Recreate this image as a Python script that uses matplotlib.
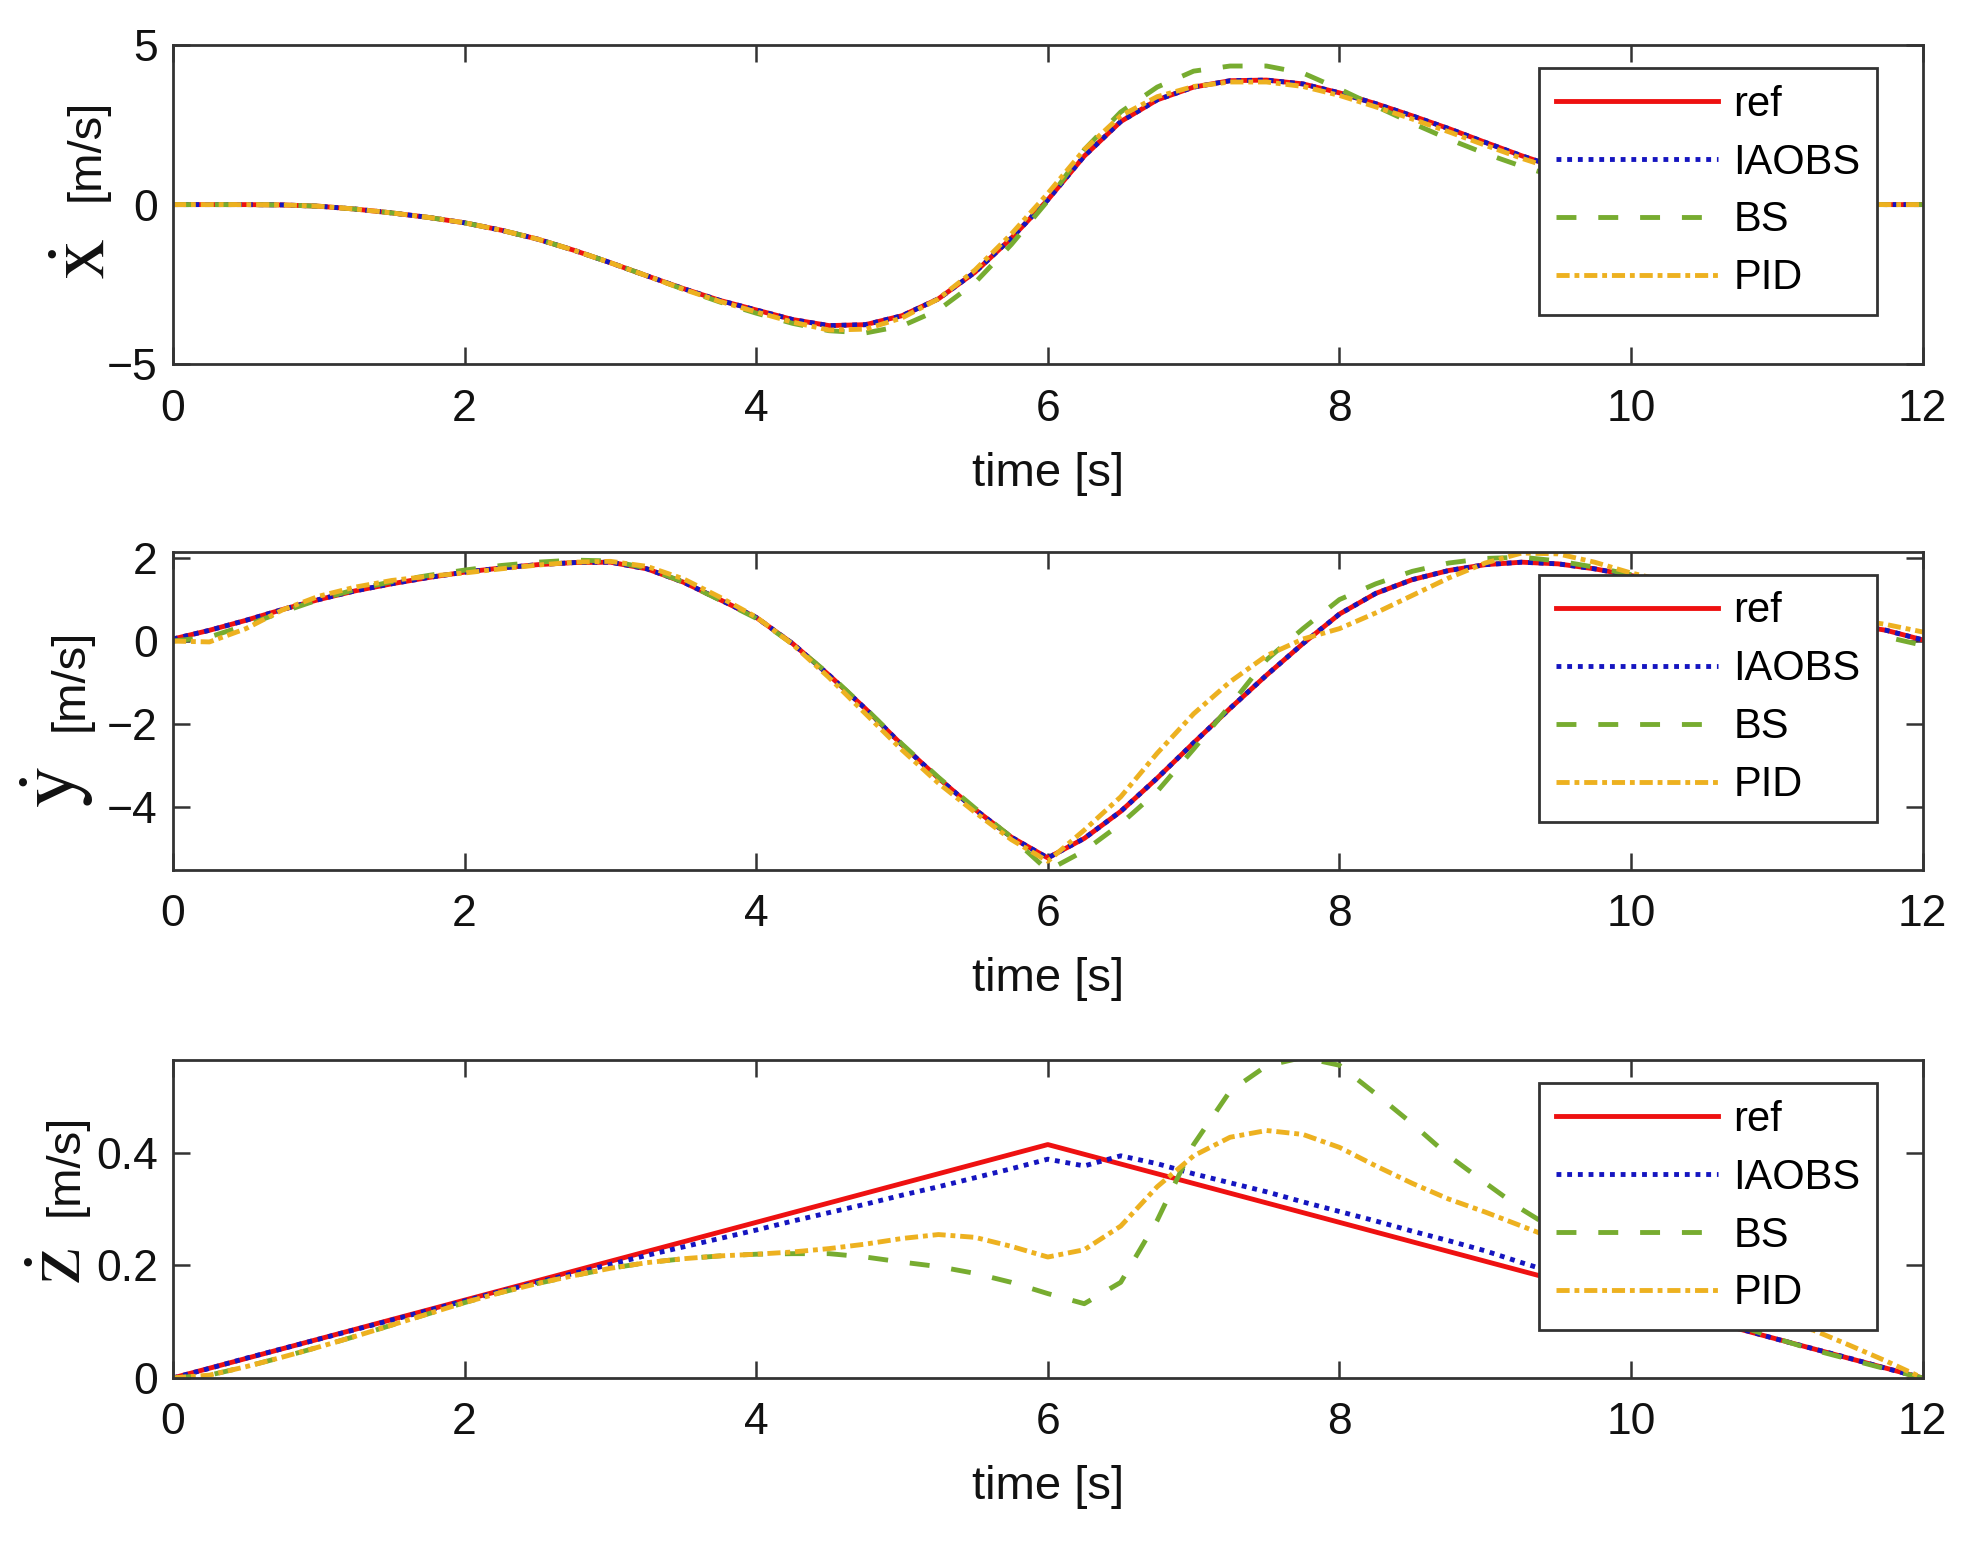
import numpy as np
import matplotlib
matplotlib.use('Agg')
import matplotlib.pyplot as plt

plt.rcParams['font.family'] = ['Liberation Sans', 'DejaVu Sans']
plt.rcParams['mathtext.fontset'] = 'stix'

# time grid [s]
t = np.arange(0, 12.001, 0.25)

# x velocity [m/s]
vx_ref = [0.00, 0.00, 0.00, -0.01, -0.05, -0.14, -0.26, -0.40,
          -0.57, -0.80, -1.08, -1.43, -1.82, -2.23, -2.63, -3.00,
          -3.30, -3.60, -3.79, -3.76, -3.48, -2.95, -2.12, -1.05,
          0.15, 1.52, 2.60, 3.28, 3.68, 3.88, 3.90, 3.78,
          3.50, 3.16, 2.78, 2.38, 1.95, 1.53, 1.15, 0.82,
          0.55, 0.34, 0.19, 0.10, 0.05, 0.02, 0.01, 0.00,
          0.00]
vx_iaobs = list(vx_ref)  # lies on top of ref
vx_bs = [0.00, 0.00, 0.00, -0.01, -0.05, -0.14, -0.26, -0.40,
         -0.57, -0.80, -1.08, -1.43, -1.82, -2.23, -2.65, -3.05,
         -3.40, -3.72, -3.95, -4.02, -3.80, -3.30, -2.45, -1.25,
         0.12, 1.72, 2.90, 3.68, 4.18, 4.34, 4.34, 4.12,
         3.62, 3.08, 2.55, 2.05, 1.60, 1.20, 0.85, 0.55,
         0.32, 0.18, 0.08, 0.03, 0.01, 0.00, 0.00, 0.00,
         0.00]
vx_pid = [0.00, 0.00, 0.00, -0.01, -0.05, -0.14, -0.26, -0.40,
          -0.57, -0.80, -1.08, -1.43, -1.82, -2.23, -2.65, -3.03,
          -3.36, -3.68, -3.93, -3.90, -3.55, -2.95, -2.05, -0.92,
          0.35, 1.72, 2.78, 3.38, 3.70, 3.84, 3.84, 3.70,
          3.42, 3.06, 2.68, 2.28, 1.86, 1.45, 1.08, 0.76,
          0.50, 0.30, 0.16, 0.08, 0.04, 0.02, 0.01, 0.00,
          0.00]

# y velocity [m/s]
vy_ref = [0.05, 0.26, 0.50, 0.76, 1.00, 1.21, 1.38, 1.53,
          1.66, 1.76, 1.84, 1.89, 1.90, 1.74, 1.42, 1.00,
          0.57, -0.06, -0.82, -1.63, -2.50, -3.30, -4.05, -4.72,
          -5.22, -4.75, -4.10, -3.30, -2.45, -1.62, -0.82, -0.06,
          0.65, 1.15, 1.48, 1.70, 1.84, 1.90, 1.86, 1.74,
          1.58, 1.38, 1.16, 0.95, 0.75, 0.56, 0.40, 0.26,
          0.03]
vy_iaobs = list(vy_ref)
vy_bs = [0.00, 0.10, 0.38, 0.70, 1.00, 1.24, 1.43, 1.58,
         1.71, 1.82, 1.90, 1.95, 1.93, 1.76, 1.42, 0.99,
         0.55, -0.07, -0.80, -1.62, -2.48, -3.28, -4.02, -4.72,
         -5.52, -5.05, -4.40, -3.62, -2.60, -1.55, -0.45, 0.30,
         1.00, 1.38, 1.68, 1.88, 1.99, 2.02, 1.93, 1.78,
         1.60, 1.40, 1.18, 0.96, 0.73, 0.52, 0.32, 0.10,
         -0.10]
vy_pid = [0.00, -0.02, 0.30, 0.75, 1.08, 1.30, 1.46, 1.56,
          1.64, 1.74, 1.83, 1.90, 1.92, 1.80, 1.50, 1.06,
          0.58, -0.08, -0.88, -1.75, -2.62, -3.42, -4.12, -4.78,
          -5.30, -4.55, -3.75, -2.70, -1.75, -0.98, -0.35, 0.05,
          0.30, 0.68, 1.10, 1.52, 1.88, 2.12, 2.10, 1.90,
          1.64, 1.44, 1.24, 1.04, 0.86, 0.70, 0.54, 0.40,
          0.22]

# z velocity [m/s]
t_zref = [0, 6, 12]
vz_ref = [0.0, 0.415, 0.0]
vz_iaobs = [0.000, 0.017, 0.035, 0.052, 0.069, 0.086, 0.103, 0.120,
            0.137, 0.154, 0.170, 0.186, 0.202, 0.218, 0.233, 0.248,
            0.263, 0.279, 0.294, 0.309, 0.325, 0.340, 0.356, 0.372,
            0.389, 0.377, 0.395, 0.381, 0.363, 0.347, 0.331, 0.313,
            0.296, 0.279, 0.261, 0.244, 0.226, 0.205, 0.185, 0.166,
            0.146, 0.126, 0.106, 0.087, 0.069, 0.052, 0.035, 0.017,
            0.000]
vz_bs = [0.000, 0.005, 0.020, 0.037, 0.055, 0.074, 0.094, 0.114,
         0.134, 0.152, 0.168, 0.182, 0.195, 0.205, 0.212, 0.217,
         0.220, 0.221, 0.221, 0.215, 0.206, 0.198, 0.186, 0.170,
         0.150, 0.132, 0.170, 0.280, 0.415, 0.510, 0.555, 0.570,
         0.556, 0.505, 0.452, 0.395, 0.347, 0.300, 0.260, 0.215,
         0.178, 0.145, 0.118, 0.092, 0.070, 0.050, 0.033, 0.016,
         0.000]
vz_pid = [0.000, 0.005, 0.020, 0.037, 0.055, 0.074, 0.094, 0.114,
          0.134, 0.152, 0.168, 0.182, 0.195, 0.205, 0.212, 0.217,
          0.220, 0.224, 0.230, 0.238, 0.248, 0.255, 0.250, 0.234,
          0.215, 0.228, 0.270, 0.340, 0.395, 0.428, 0.440, 0.433,
          0.410, 0.377, 0.346, 0.318, 0.295, 0.270, 0.245, 0.215,
          0.190, 0.165, 0.140, 0.120, 0.100, 0.085, 0.058, 0.030,
          0.000]

labels = ['ref', 'IAOBS', 'BS', 'PID']
colors = ['#ee1111', '#1515c0', '#77ac30', '#edb120']
xticks = [0, 2, 4, 6, 8, 10, 12]

panels = [
    # (variable, series, ylim, yticks, axes box, ylabel pos, symbol pos)
    (r'$\dot{\mathrm{x}}$', [(t, vx_ref), (t, vx_iaobs), (t, vx_bs), (t, vx_pid)],
     (-5, 5), [-5, 0, 5], [0.0875, 0.765, 0.885, 0.206], (-0.037, 0.672), (-0.030, 0.33)),
    (r'$\dot{\mathrm{y}}$', [(t, vy_ref), (t, vy_iaobs), (t, vy_bs), (t, vy_pid)],
     (-5.5, 2.15), [-4, -2, 0, 2], [0.0875, 0.439, 0.885, 0.205], (-0.046, 0.596), (-0.044, 0.26)),
    (r'$\dot{\mathrm{z}}$', [(t_zref, vz_ref), (t, vz_iaobs), (t, vz_bs), (t, vz_pid)],
     (0, 0.565), [0, 0.2, 0.4], [0.0875, 0.111, 0.885, 0.205], (-0.049, 0.67), (-0.043, 0.35)),
]

fig = plt.figure(figsize=(19.77, 15.5), dpi=100)
fig.patch.set_facecolor('white')

for sym, series, ylim, yticks, box, lab_pos, sym_pos in panels:
    ax = fig.add_axes(box)
    lw = 3.5
    (t0, y0), (t1, y1), (t2, y2), (t3, y3) = series
    ax.plot(t0, y0, color=colors[0], lw=lw, label=labels[0])
    ax.plot(t1, y1, color=colors[1], lw=lw, dashes=(1.0, 1.2), label=labels[1])
    ax.plot(t2, y2, color=colors[2], lw=lw, dashes=(4.1, 4.5), label=labels[2])
    ax.plot(t3, y3, color=colors[3], lw=lw, dashes=(2.7, 1.0, 1.0, 1.0), label=labels[3])

    ax.set_xlim(0, 12)
    ax.set_ylim(*ylim)
    ax.set_xticks(xticks)
    ax.set_yticks(yticks)
    ax.set_yticklabels([('%g' % v).replace('-', '\u2212') for v in yticks])
    ax.tick_params(direction='in', length=12.5, width=1.8, color='#333333',
                   labelsize=32, top=True, right=True, labelcolor='#111111')
    ax.tick_params(axis='x', pad=17.5)
    ax.tick_params(axis='y', pad=11)
    for s in ax.spines.values():
        s.set_linewidth(2.0)
        s.set_color('#333333')
    ax.set_xlabel('time [s]', fontsize=34, labelpad=16, color='#111111')
    ax.set_ylabel('[m/s]', fontsize=34, color='#111111')
    ax.yaxis.set_label_coords(*lab_pos)
    ax.text(sym_pos[0], sym_pos[1], sym, transform=ax.transAxes, rotation=90,
            fontsize=60, ha='right', va='center', color='#111111')

    leg = ax.legend(loc='upper right', bbox_to_anchor=(0.974, 0.928), borderaxespad=0,
                    fontsize=30, fancybox=False, framealpha=1, edgecolor='#333333',
                    handlelength=3.9, handletextpad=0.36, labelspacing=0.43, borderpad=0.4)
    leg.get_frame().set_linewidth(2.0)

fig.savefig('out.png', dpi=100, facecolor='white')
